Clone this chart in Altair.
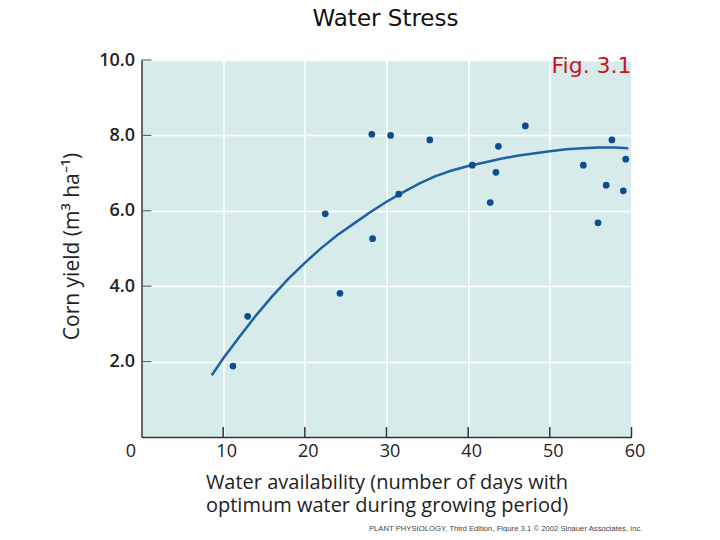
import altair as alt
import pandas as pd

# Scatter data (days with optimum water, corn yield)
days = [11.2, 13.0, 22.5, 24.3, 28.2, 28.3, 30.5, 31.5, 35.3, 40.5,
        42.7, 43.4, 43.7, 47.0, 54.1, 55.9, 56.9, 57.6, 59.0, 59.3]
yields = [1.88, 3.20, 5.92, 3.81, 8.03, 5.26, 8.00, 6.44, 7.88, 7.21,
          6.22, 7.02, 7.71, 8.25, 7.21, 5.68, 6.68, 7.88, 6.53, 7.37]

# Fitted curve
curve_x = [8.6, 10, 12, 14, 16, 18, 20, 22, 24, 26, 28, 30, 32, 34, 36, 38,
           40, 42, 44, 46, 48, 50, 52, 54, 56, 58, 59.6]
curve_y = [1.64, 2.08, 2.66, 3.22, 3.73, 4.20, 4.62, 5.01, 5.36, 5.66, 5.96,
           6.24, 6.49, 6.72, 6.92, 7.07, 7.19, 7.28, 7.38, 7.46, 7.52, 7.58,
           7.63, 7.66, 7.68, 7.68, 7.66]

x_ticks = [0, 10, 20, 30, 40, 50, 60]
y_ticks = [2, 4, 6, 8, 10]
x_inner_ticks = [10, 20, 30, 40, 50, 60]

title_text = "Water Stress"
fig_label = "Fig. 3.1"
footer = "PLANT PHYSIOLOGY, Third Edition, Figure 3.1  \u00a9 2002 Sinauer Associates, Inc."
x_title = ["Water availability (number of days with", "optimum water during growing period)"]
y_title = "Corn yield (m\u00b3 ha\u207b\u00b9)"

pts = pd.DataFrame({"days": days, "yield": yields})
crv = pd.DataFrame({"days": curve_x, "yield": curve_y})
ytk = pd.DataFrame({"v": y_ticks})
xtk = pd.DataFrame({"v": x_inner_ticks})
one = pd.DataFrame({"t": [0]})

xscale = alt.Scale(domain=[0, 60], nice=False, zero=False)
yscale = alt.Scale(domain=[0, 10], nice=False, zero=False)

LABEL_FONT = "Open Sans"

xaxis = alt.Axis(values=x_ticks, title=x_title, grid=True, gridColor="white",
                 gridWidth=1.5, ticks=False, domainColor="#333", domainWidth=1.5,
                 labelFont=LABEL_FONT, labelFontSize=18, labelColor="#222",
                 labelPadding=5, labelFlush=False,
                 labelOffset={"expr": "datum.value == 0 ? -11 : 3"},
                 titleFont=LABEL_FONT, titleFontSize=20, titleFontWeight="normal",
                 titleColor="#222", titlePadding=12, titleLineHeight=23)
yaxis = alt.Axis(values=y_ticks, format=".1f", title=y_title, grid=True,
                 gridColor="white", gridWidth=1.5, ticks=False,
                 domainColor="#333", domainWidth=1.5,
                 labelFont=LABEL_FONT, labelFontSize=18, labelFontWeight=600,
                 labelColor="#222", labelPadding=7,
                 titleFont=LABEL_FONT, titleFontSize=21, titleFontWeight="normal",
                 titleColor="#222", titleX=-69, titleY=186, titleBaseline="middle",
                 titleAngle=-90)

points = alt.Chart(pts).mark_point(filled=True, size=45, color="#0c4d8b", opacity=1).encode(
    x=alt.X("days:Q", scale=xscale, axis=xaxis),
    y=alt.Y("yield:Q", scale=yscale, axis=yaxis),
)

line = alt.Chart(crv).mark_line(color="#1d61a3", strokeWidth=2.5).encode(
    x=alt.X("days:Q", scale=xscale),
    y=alt.Y("yield:Q", scale=yscale),
)

yticks_marks = alt.Chart(ytk).mark_rule(color="#666", strokeWidth=1.2).encode(
    y=alt.Y("v:Q", scale=yscale),
    x=alt.value(0), x2=alt.value(10),
)
xticks_marks = alt.Chart(xtk).mark_rule(color="#333", strokeWidth=1.5).encode(
    x=alt.X("v:Q", scale=xscale),
    y=alt.value(377), y2=alt.value(367),
)

title_mark = alt.Chart(one).mark_text(
    text=title_text, color="#111", font="DejaVu Sans", fontSize=23,
    align="center", baseline="alphabetic"
).encode(x=alt.value(244), y=alt.value(-34))

fig_text = alt.Chart(one).mark_text(
    text=fig_label, color="#c8161e", font="DejaVu Sans", fontSize=22,
    align="left", baseline="alphabetic"
).encode(x=alt.value(410), y=alt.value(13))

footer_text = alt.Chart(one).mark_text(
    text=footer, color="#444", font="Liberation Sans", fontSize=7.7,
    align="right", baseline="middle"
).encode(x=alt.value(501), y=alt.value(469))

chart = alt.layer(
    yticks_marks, xticks_marks, line, points, title_mark, fig_text, footer_text
).properties(
    width=490, height=377,
    autosize=alt.AutoSizeParams(type="none"),
    padding={"left": 133.5, "top": 52, "right": 80, "bottom": 95},
).configure(
    background="white",
    view=alt.ViewConfig(fill="#d7ebeb", stroke=None),
)

chart.save("out.html", embed_options={"renderer": "svg", "actions": False})
